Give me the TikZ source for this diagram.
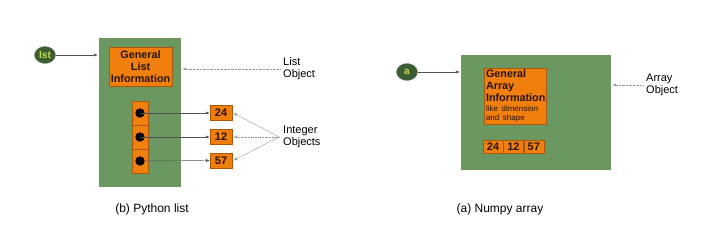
\documentclass[tikz,border=0pt]{standalone}
\usepackage{fontspec}
\setmainfont{Liberation Sans}
\usetikzlibrary{arrows.meta,shapes.geometric}

\definecolor{objgreen}{HTML}{6B9761}
\definecolor{varcol}{HTML}{3D5C34}
\definecolor{vartext}{HTML}{C3DD4A}
\definecolor{infoorange}{HTML}{F07F0E}
\definecolor{infoedge}{HTML}{A9560F}
\definecolor{boxtext}{HTML}{2A1300}
\definecolor{arrowgray}{HTML}{505050}
\definecolor{notegray}{HTML}{9A9A9A}

\begin{document}
\begin{tikzpicture}[x=1pt, y=-1pt,
  objbox/.style={fill=objgreen, draw=none, inner sep=0pt},
  var/.style={ellipse, fill=varcol, draw=varcol!70!white, text=vartext,
    inner sep=0pt, minimum width=21, minimum height=17,
    font=\bfseries\fontsize{10}{12}\selectfont},
  infobox/.style={fill=infoorange, draw=infoedge, text=boxtext, inner sep=1.5pt,
    font=\bfseries\fontsize{10.8}{12}\selectfont},
  cell/.style={fill=infoorange, draw=infoedge, inner sep=0pt},
  numbox/.style={cell, text=boxtext, font=\bfseries\fontsize{11}{12}\selectfont},
  pointer/.style={draw=arrowgray, -{Latex[length=4pt,width=3pt]}},
  note/.style={draw=notegray, -{Latex[length=4pt,width=3pt]}},
  label/.style={align=left, anchor=west, inner sep=0pt,
    font=\fontsize{11}{12}\selectfont},
  caption/.style={font=\fontsize{12}{14}\selectfont}]
\useasboundingbox (0,0) rectangle (727,251);

% (b) Python list
\node[objbox, minimum width=82, minimum height=149] (listobj) at (140,112.5) {};
\node[infobox, align=center, minimum width=61, minimum height=39] (listinfo) at (140.5,66.5)
  {General\\List\\Information};
\node[var] (lst) at (45,55) {lst};
\draw[pointer] (lst) -- ([xshift=-1]lst -| listobj.west);

\node[cell, minimum width=16, minimum height=24] (c1) at (140,113) {};
\node[cell, minimum width=16, minimum height=24] (c2) at (140,137) {};
\node[cell, minimum width=16, minimum height=24] (c3) at (140,161) {};
\foreach \c in {c1,c2,c3}
  \fill (\c.center) circle (4.7);

\node[numbox, minimum width=22, minimum height=15] (n24) at (221,113) {24};
\node[numbox, minimum width=22, minimum height=15] (n12) at (221,137) {12};
\node[numbox, minimum width=22, minimum height=15] (n57) at (221,160.5) {57};
\draw[pointer] (c1.center) -- (n24.west);
\draw[pointer] (c2.center) -- (n12.west);
\draw[pointer] (c3.center) -- (n57.west);

\node[label] (listlbl) at (283,69) {List\\Object};
\draw[note, densely dotted] ([xshift=-3]listlbl.west) -- ([xshift=1]listlbl.west -| listobj.east);
\node[label] (intlbl) at (283,137) {Integer\\Objects};
\draw[note] ([xshift=-4]intlbl.west) -- ([xshift=1]n24.east);
\draw[note, densely dotted] ([xshift=-4]intlbl.west) -- ([xshift=1]n12.east);
\draw[note] ([xshift=-4]intlbl.west) -- ([xshift=1]n57.east);

\node[caption] (capb) at (152,209) {(b) Python list};

% (a) Numpy array
\node[objbox, minimum width=150, minimum height=115] (arrobj) at (536,112.5) {};
\node[infobox, align=left, text width=59, minimum height=54] (arrinfo) at (515.5,96)
  {General\\Array\\Information\par
   {\mdseries\fontsize{8}{9.5}\selectfont like dimension\\and shape\par}};
\node[var] (a) at (407,72) {a};
\draw[pointer] (a) -- ([xshift=-1]a -| arrobj.west);

\node[numbox, minimum width=20, minimum height=13] (v1) at (493,146.5) {24};
\node[numbox, minimum width=20, minimum height=13, anchor=west] (v2) at (v1.east) {12};
\node[numbox, minimum width=20, minimum height=13, anchor=west] (v3) at (v2.east) {57};

\node[label] (arrlbl) at (646,85) {Array\\Object};
\draw[note, densely dotted] ([xshift=-3]arrlbl.west) -- ([xshift=1]arrlbl.west -| arrobj.east);

\node[caption] (capa) at (500,209) {(a) Numpy array};
\end{tikzpicture}
\end{document}
